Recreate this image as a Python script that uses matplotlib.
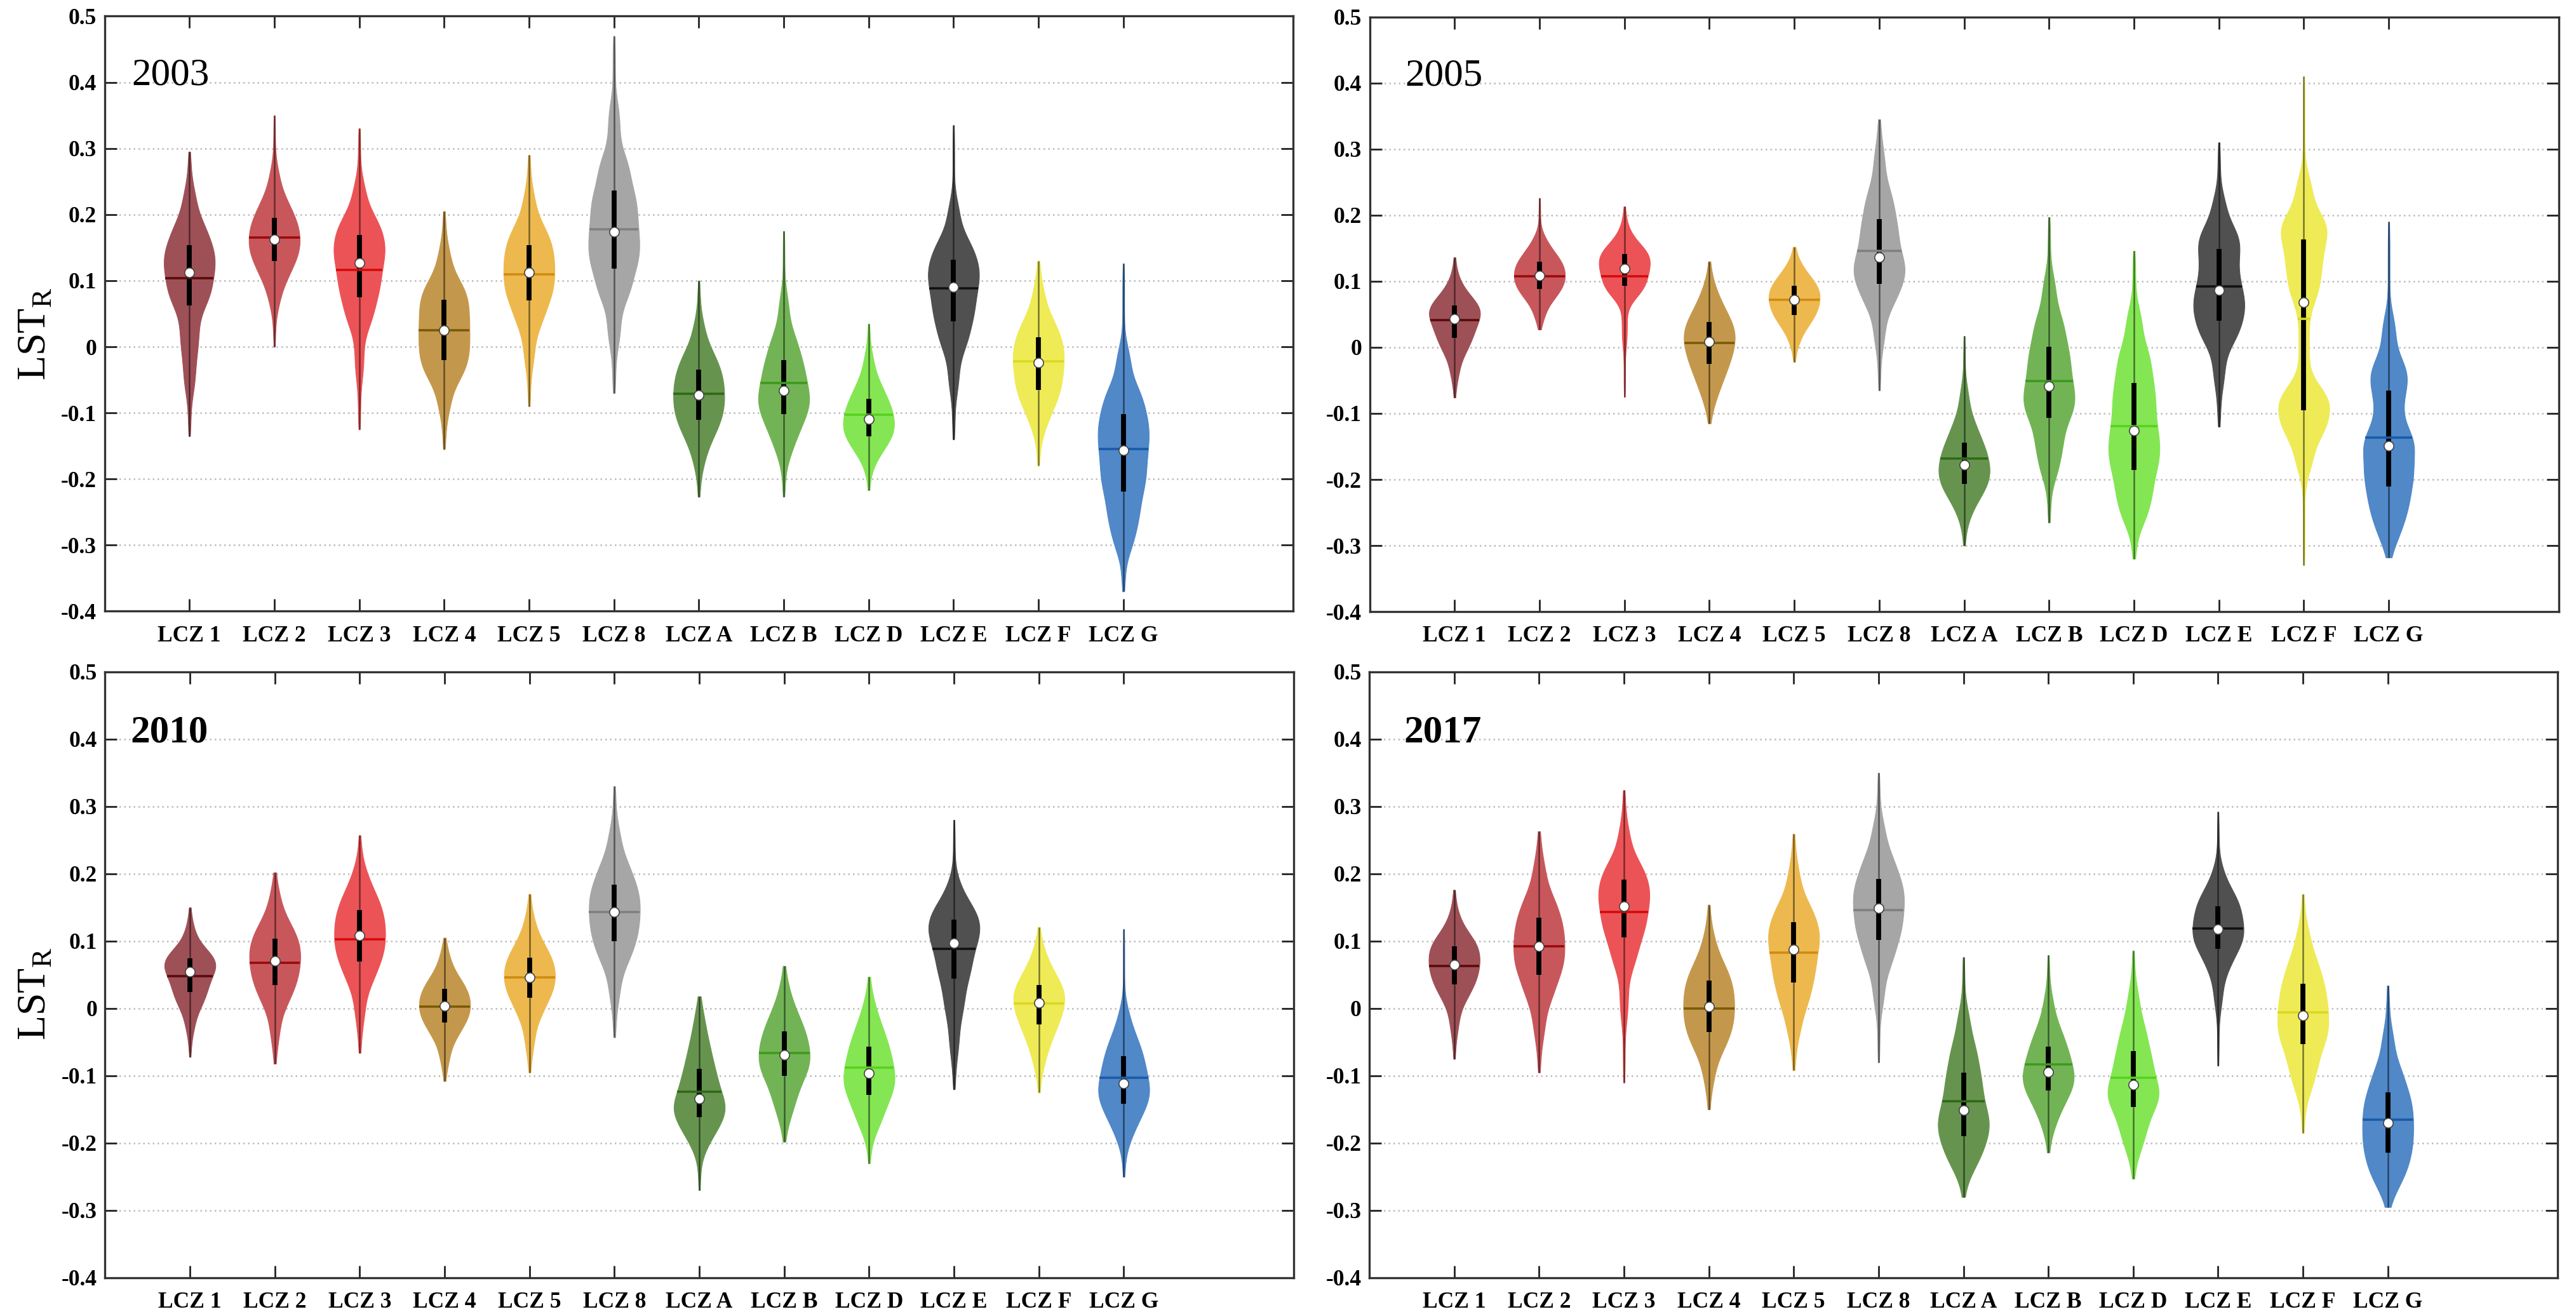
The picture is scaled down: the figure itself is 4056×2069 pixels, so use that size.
import math
import numpy as np
import matplotlib
matplotlib.use("Agg")
import matplotlib.pyplot as plt

###############################################################################
# LSTR violins per LCZ class for four years
# each violin is given by its quantiles at the levels in QLEVELS
# (min, 2%, 10%, 25%, median, 75%, 90%, 98%, max) plus its mean;
# bimodal violins get two extra quantiles (40% and 60%)
###############################################################################

LCZ_names = ["LCZ 1", "LCZ 2", "LCZ 3", "LCZ 4", "LCZ 5", "LCZ 8",
             "LCZ A", "LCZ B", "LCZ D", "LCZ E", "LCZ F", "LCZ G"]
QLEVELS = [0.0, 0.02, 0.10, 0.25, 0.50, 0.75, 0.90, 0.98, 1.0]

q_2003 = [
    [-0.135, -0.07, -0.01, 0.062, 0.112, 0.154, 0.19, 0.24, 0.295],
    [0.0, 0.06, 0.10, 0.130, 0.162, 0.195, 0.225, 0.27, 0.35],
    [-0.125, -0.05, 0.03, 0.075, 0.127, 0.169, 0.20, 0.25, 0.33],
    [-0.155, -0.10, -0.05, -0.020, 0.025, 0.071, 0.10, 0.15, 0.205],
    [-0.09, -0.03, 0.03, 0.070, 0.112, 0.154, 0.185, 0.235, 0.29],
    [-0.07, 0.0, 0.07, 0.118, 0.174, 0.236, 0.29, 0.37, 0.47],
    [-0.227, -0.18, -0.14, -0.110, -0.073, -0.035, -0.005, 0.04, 0.10],
    [-0.227, -0.17, -0.135, -0.102, -0.066, -0.020, 0.02, 0.08, 0.175],
    [-0.217, -0.18, -0.155, -0.135, -0.109, -0.079, -0.05, -0.01, 0.035],
    [-0.14, -0.07, -0.005, 0.038, 0.090, 0.132, 0.165, 0.22, 0.335],
    [-0.18, -0.13, -0.095, -0.065, -0.024, 0.014, 0.045, 0.09, 0.13],
    [-0.37, -0.31, -0.27, -0.219, -0.157, -0.102, -0.06, 0.0, 0.126],
]
mean_2003 = [0.104, 0.165, 0.116, 0.025, 0.110, 0.178, -0.071, -0.055, -0.103, 0.088, -0.022, -0.155]
extra_2003 = {}

q_2005 = [
    [-0.076, -0.045, -0.01, 0.014, 0.043, 0.063, 0.08, 0.105, 0.136],
    [0.027, 0.045, 0.07, 0.088, 0.109, 0.130, 0.148, 0.17, 0.226],
    [-0.075, 0.0, 0.075, 0.093, 0.119, 0.141, 0.155, 0.18, 0.213],
    [-0.115, -0.085, -0.055, -0.025, 0.009, 0.038, 0.065, 0.095, 0.13],
    [-0.022, 0.005, 0.03, 0.049, 0.072, 0.093, 0.11, 0.13, 0.152],
    [-0.065, 0.0, 0.06, 0.096, 0.136, 0.194, 0.24, 0.30, 0.345],
    [-0.30, -0.26, -0.23, -0.207, -0.178, -0.144, -0.11, -0.06, 0.017],
    [-0.265, -0.2, -0.16, -0.107, -0.059, 0.001, 0.05, 0.11, 0.197],
    [-0.32, -0.27, -0.235, -0.186, -0.126, -0.054, 0.0, 0.06, 0.146],
    [-0.12, -0.06, 0.005, 0.040, 0.086, 0.149, 0.18, 0.23, 0.31],
    [-0.33, -0.19, -0.135, -0.095, 0.068, 0.163, 0.2, 0.26, 0.41],
    [-0.318, -0.29, -0.255, -0.211, -0.149, -0.065, -0.02, 0.05, 0.19],
]
mean_2005 = [0.041, 0.108, 0.108, 0.007, 0.072, 0.146, -0.168, -0.051, -0.119, 0.092, 0.043, -0.137]
extra_2005 = {"LCZ E": [(0.40, 0.068), (0.60, 0.110)],
              "LCZ F": [(0.40, -0.060), (0.60, 0.110)],
              "LCZ G": [(0.40, -0.175), (0.60, -0.130)]}

q_2010 = [
    [-0.072, -0.035, 0.0, 0.024, 0.055, 0.074, 0.09, 0.12, 0.15],
    [-0.082, -0.045, 0.005, 0.035, 0.071, 0.104, 0.13, 0.17, 0.202],
    [-0.066, -0.02, 0.035, 0.070, 0.108, 0.146, 0.175, 0.21, 0.257],
    [-0.108, -0.08, -0.045, -0.021, 0.004, 0.029, 0.05, 0.08, 0.105],
    [-0.095, -0.06, -0.015, 0.016, 0.046, 0.075, 0.1, 0.135, 0.17],
    [-0.043, 0.01, 0.065, 0.100, 0.143, 0.184, 0.22, 0.27, 0.33],
    [-0.27, -0.21, -0.185, -0.161, -0.134, -0.09, -0.05, -0.01, 0.018],
    [-0.198, -0.165, -0.135, -0.100, -0.069, -0.034, -0.005, 0.03, 0.063],
    [-0.23, -0.185, -0.16, -0.128, -0.096, -0.057, -0.025, 0.01, 0.047],
    [-0.12, -0.07, -0.01, 0.044, 0.097, 0.132, 0.155, 0.19, 0.28],
    [-0.125, -0.09, -0.055, -0.024, 0.008, 0.035, 0.06, 0.09, 0.121],
    [-0.25, -0.2, -0.17, -0.142, -0.111, -0.071, -0.04, 0.0, 0.118],
]
mean_2010 = [0.048, 0.068, 0.103, 0.003, 0.046, 0.143, -0.124, -0.066, -0.088, 0.089, 0.007, -0.103]
extra_2010 = {}

q_2017 = [
    [-0.075, -0.035, 0.01, 0.036, 0.065, 0.092, 0.11, 0.14, 0.176],
    [-0.095, -0.045, 0.01, 0.050, 0.092, 0.135, 0.17, 0.22, 0.263],
    [-0.11, -0.02, 0.06, 0.106, 0.152, 0.191, 0.22, 0.27, 0.324],
    [-0.15, -0.11, -0.065, -0.035, 0.003, 0.041, 0.07, 0.11, 0.154],
    [-0.092, -0.045, 0.0, 0.039, 0.088, 0.128, 0.16, 0.21, 0.259],
    [-0.08, 0.0, 0.06, 0.102, 0.149, 0.192, 0.23, 0.28, 0.35],
    [-0.28, -0.245, -0.22, -0.19, -0.151, -0.095, -0.05, 0.0, 0.076],
    [-0.214, -0.18, -0.15, -0.122, -0.094, -0.057, -0.025, 0.02, 0.079],
    [-0.253, -0.215, -0.185, -0.146, -0.113, -0.063, -0.02, 0.03, 0.086],
    [-0.085, 0.0, 0.055, 0.089, 0.118, 0.152, 0.175, 0.21, 0.292],
    [-0.185, -0.13, -0.095, -0.053, -0.01, 0.037, 0.075, 0.12, 0.17],
    [-0.295, -0.27, -0.245, -0.214, -0.17, -0.125, -0.085, -0.03, 0.034],
]
mean_2017 = [0.063, 0.092, 0.143, 0.0, 0.083, 0.146, -0.138, -0.083, -0.103, 0.119, -0.006, -0.165]
extra_2017 = {}

Years = ["2003", "2005", "2010", "2017"]
Quant_list = [q_2003, q_2005, q_2010, q_2017]
Mean_list = [mean_2003, mean_2005, mean_2010, mean_2017]
Extra_list = [extra_2003, extra_2005, extra_2010, extra_2017]

YTicks = [-0.4, -0.3, -0.2, -0.1, 0.0, 0.1, 0.2, 0.3, 0.4, 0.5]
YTickLabels = ["-0.4", "-0.3", "-0.2", "-0.1", "0", "0.1", "0.2", "0.3", "0.4", "0.5"]

# violin fill colours and the darker colours of the mean lines
Fill_colors = ["#9E5057", "#C8575C", "#EC5356", "#C4984C", "#EDB94E", "#A6A6A6",
               "#66944F", "#72B455", "#84E653", "#505050", "#EEEB57", "#5088C8"]
Mean_colors = ["#5A0A0A", "#9A0A0A", "#D40A0A", "#7A5A05", "#D08A10", "#808080",
               "#2F6A15", "#3C9A1C", "#5AD020", "#111111", "#DCD820", "#1A5AAA"]

# axes rectangles in figure fraction [left, bottom, width, height]
Axes_rect = [[0.04056, 0.5348, 0.46144, 0.4529],
             [0.5317, 0.5345, 0.46155, 0.4526],
             [0.04078, 0.02755, 0.46139, 0.46119],
             [0.53156, 0.02755, 0.46129, 0.46119]]
Year_x = [0.32, 0.42, 0.30, 0.41]
Year_weight = ["normal", "normal", "bold", "bold"]
YLabel_y = [0.7458, None, 0.2436, None]

plt.rcParams["font.family"] = ["Liberation Serif", "DejaVu Serif"]

erf = np.vectorize(math.erf)


def violin_stats(q, extra, mean, bw):
    # density from the piecewise-uniform quantile distribution, smoothed with a gaussian
    pairs = sorted(list(zip(QLEVELS, q)) + list(extra))
    p = np.array([a for a, b in pairs])
    v = np.array([b for a, b in pairs], dtype=float)
    coords = np.linspace(v[0], v[-1], 400)
    vals = np.zeros_like(coords)
    s = bw * np.sqrt(2.0)
    for i in range(len(v) - 1):
        a, b = v[i], v[i + 1]
        vals += (p[i + 1] - p[i]) / (b - a) * 0.5 * (erf((coords - a) / s) - erf((coords - b) / s))
    return {"coords": coords, "vals": vals, "mean": mean, "median": q[4],
            "min": v[0], "max": v[-1], "quantiles": np.array([])}


fig = plt.figure(figsize=(20.28, 10.345), dpi=200)
Positions = np.arange(1, len(LCZ_names) + 1)
Width = 0.6

for ind in range(len(Years)):
    ax = fig.add_axes(Axes_rect[ind])
    Quant = Quant_list[ind]
    Means = Mean_list[ind]
    Extra = Extra_list[ind]

    stats = []
    for k in range(len(LCZ_names)):
        iqr = Quant[k][5] - Quant[k][3]
        bw = min(max(0.3 * iqr, 0.007), 0.02)
        stats.append(violin_stats(Quant[k], Extra.get(LCZ_names[k], []), Means[k], bw))

    parts = ax.violin(stats, positions=Positions, widths=Width,
                      showmeans=False, showextrema=False, showmedians=False)
    for k, body in enumerate(parts["bodies"]):
        body.set_facecolor(Fill_colors[k])
        body.set_edgecolor(Fill_colors[k])
        body.set_linewidth(0.4)
        body.set_alpha(1.0)
        body.set_zorder(2)

    for k in range(len(LCZ_names)):
        q = Quant[k]
        x = Positions[k]
        # thin whisker over the whole range
        ax.vlines(x, q[0], q[-1], color="black", alpha=0.5, lw=0.9, zorder=3)
        # interquartile bar
        ax.vlines(x, q[3], q[5], color="black", lw=2.8, zorder=4)
        # mean line across the violin
        st = stats[k]
        half = Width / 2 * np.interp(Means[k], st["coords"], st["vals"]) / st["vals"].max()
        ax.hlines(Means[k], x - half, x + half, color=Mean_colors[k], lw=1.3, zorder=4)
        # median dot
        ax.plot(x, q[4], "o", mfc="white", mec="#444444", mew=0.6, ms=5.5, zorder=5)

    ax.set_xlim(0, 14)
    ax.set_ylim(-0.4, 0.5)
    ax.set_xticks(Positions)
    ax.set_xticklabels(LCZ_names, fontsize=12.8, fontweight="bold")
    ax.set_yticks(YTicks)
    ax.set_yticklabels(YTickLabels, fontsize=12.8, fontweight="bold")
    ax.tick_params(axis="both", direction="in", length=6.8, width=1.0,
                   top=True, right=True, color="#222222")
    ax.tick_params(axis="x", pad=8)
    ax.tick_params(axis="y", pad=4.5)
    ax.yaxis.grid(True, linestyle=(0, (1, 2)), color="#BBBBBB", lw=0.9)
    ax.set_axisbelow(True)
    for sp in ax.spines.values():
        sp.set_linewidth(1.2)
        sp.set_color("#333333")

    ax.text(Year_x[ind], 0.396, Years[ind], fontsize=22, fontweight=Year_weight[ind],
            ha="left", va="baseline")

    if YLabel_y[ind] is not None:
        fig.text(57 / 4056, YLabel_y[ind], r"LST$_\mathregular{R}$", fontsize=23,
                 rotation=90, ha="center", va="center")

fig.savefig("out.png", dpi=200)
plt.close()
